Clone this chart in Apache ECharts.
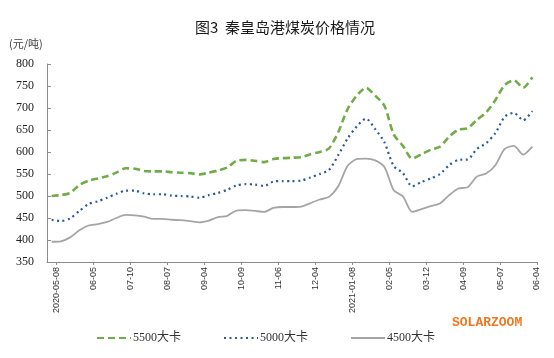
<!DOCTYPE html>
<html><head><meta charset="utf-8">
<script src="https://cdn.jsdelivr.net/npm/echarts@6/dist/echarts.min.js"></script>
<style>html,body{margin:0;padding:0;background:#fff}#c{width:554px;height:358px}</style>
</head><body><div id="c"></div>
<script>
var categories = ['2020-05-08','05-15','05-22','05-29','06-05','06-12','06-19','07-03','07-10','07-17','07-24','07-31','08-07','08-14','08-21','08-28','09-04','09-11','09-18','09-25','10-09','10-16','10-23','10-30','11-06','11-13','11-20','11-27','12-04','12-11','12-18','12-25','2021-01-08','01-15','01-22','01-29','02-05','02-19','02-26','03-05','03-12','03-19','03-26','04-02','04-09','04-16','04-23','04-30','05-07','05-14','05-21','05-28','06-04'];
var s5500 = [500,502,507,525,535,540,545,553,563,562,557,556,556,554,553,552,549,553,558,565,580,582,580,577,584,586,587,588,595,600,608,645,697,728,746,728,705,640,614,585,595,605,612,635,651,654,673,690,718,752,763,746,770];
var s5000 = [446,443,449,466,482,488,496,505,512,512,506,504,504,501,500,499,496,502,507,514,524,527,526,523,533,534,534,535,542,550,559,593,630,658,676,652,622,568,552,522,532,540,550,570,582,583,607,620,643,680,689,672,693];
var s4500 = [396,397,406,422,433,436,441,450,457,456,453,448,448,446,445,443,440,444,452,455,467,468,466,464,473,475,475,476,484,492,498,522,568,584,585,581,566,513,499,464,470,477,483,502,517,520,544,551,570,607,614,594,612];
var seriesNames = ['5500大卡','5000大卡','4500大卡'];
var yTicks = {min:350, max:800, interval:50};

var chart = echarts.init(document.getElementById('c'), null, {renderer:'canvas'});
var labelAxisData = [''].concat(categories);
chart.setOption({
  animation:false,
  backgroundColor:'#fff',
  title:{text:'图3  秦皇岛港煤炭价格情况', left:280, textAlign:'center', top:15,
    textStyle:{fontFamily:'Noto Sans CJK SC', fontSize:15, fontWeight:'normal', color:'#1a1a1a'}},
  graphic:[
    {type:'text', left:9, top:38, style:{text:'(元/吨)', font:'11px "Noto Sans CJK SC"', fill:'#404040'}},
    {type:'text', left:452, top:316, style:{text:'SOLARZOOM', font:'bold 13px "Liberation Mono"', fill:'#EE7722'}}
  ],
  legend:{left:91, top:327, itemWidth:34, itemHeight:8, itemGap:42,
    itemStyle:{opacity:0},
    textStyle:{fontFamily:'Liberation Serif, Noto Sans CJK SC', fontSize:12, color:'#333', padding:[0,0,0,-3]},
    data:seriesNames},
  grid:{left:47, right:17, top:64, bottom:96},
  xAxis:[
    {type:'category', data:categories, boundaryGap:true,
     axisLine:{lineStyle:{color:'#8c8c8c', width:1}}, axisTick:{show:false}, axisLabel:{show:false}},
    {type:'category', data:labelAxisData, boundaryGap:false, position:'bottom',
     axisLine:{show:false},
     axisTick:{show:true, length:3, lineStyle:{color:'#8c8c8c'}, interval:function(i){return (i-1)%4===0;}},
     axisLabel:{show:true, rotate:90, margin:5, interval:function(i){return (i-1)%4===0;},
       fontFamily:'Liberation Sans', fontSize:9, color:'#333'}}
  ],
  yAxis:{type:'value', min:yTicks.min, max:yTicks.max, interval:yTicks.interval,
    axisLine:{show:true, lineStyle:{color:'#8c8c8c'}},
    axisTick:{show:true, inside:true, length:4, lineStyle:{color:'#8c8c8c'}},
    splitLine:{show:false},
    axisLabel:{margin:13, fontFamily:'Liberation Serif', fontSize:12, color:'#222'}},
  series:[
    {name:seriesNames[0], type:'line', data:s5500, symbol:'none', smooth:0.25, xAxisIndex:0,
     itemStyle:{color:'#70AD47'}, lineStyle:{color:'#70AD47', width:2.6, type:[7,4]}},
    {name:seriesNames[1], type:'line', data:s5000, symbol:'none', smooth:0.25, xAxisIndex:0,
     itemStyle:{color:'#2E5A9C'}, lineStyle:{color:'#2E5A9C', width:2.2, type:[2,3.5]}},
    {name:seriesNames[2], type:'line', data:s4500, symbol:'none', smooth:0.25, xAxisIndex:0,
     itemStyle:{color:'#A5A5A5'}, lineStyle:{color:'#A5A5A5', width:1.8}}
  ]
});
</script></body></html>
